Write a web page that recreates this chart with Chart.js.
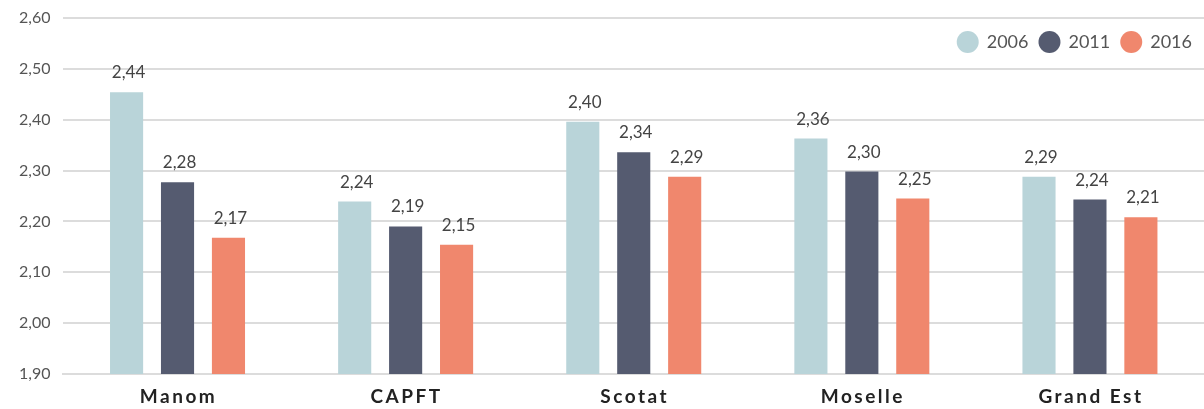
<!DOCTYPE html>
<html>
<head>
<meta charset="utf-8">
<script src="https://cdn.jsdelivr.net/npm/chart.js@4"></script>
<style>
  html, body { margin: 0; padding: 0; background: #fff; }
  #wrap { width: 1204px; height: 409px; }
</style>
</head>
<body>
<div id="wrap"><canvas id="myChart"></canvas></div>
<script>
const categories = ['Manom', 'CAPFT', 'Scotat', 'Moselle', 'Grand Est'];
const years = ['2006', '2011', '2016'];
const values2006 = [2.454, 2.239, 2.396, 2.363, 2.288];
const values2011 = [2.277, 2.19, 2.336, 2.298, 2.243];
const values2016 = [2.168, 2.154, 2.288, 2.245, 2.208];
const labels2006 = ['2,44', '2,24', '2,40', '2,36', '2,29'];
const labels2011 = ['2,28', '2,19', '2,34', '2,30', '2,24'];
const labels2016 = ['2,17', '2,15', '2,29', '2,25', '2,21'];
const yTicks = [1.9, 2.0, 2.1, 2.2, 2.3, 2.4, 2.5, 2.6];
const colors = ['#b9d4d9', '#555b70', '#f0876d'];

const barLabels = [labels2006, labels2011, labels2016];

// value labels above bars
const valueLabels = {
  id: 'valueLabels',
  afterDatasetsDraw(chart) {
    const ctx = chart.ctx;
    ctx.save();
    ctx.font = '17px Lato';
    ctx.fillStyle = '#444';
    ctx.textAlign = 'center';
    ctx.textBaseline = 'bottom';
    chart.data.datasets.forEach((ds, i) => {
      chart.getDatasetMeta(i).data.forEach((bar, j) => {
        ctx.fillText(barLabels[i][j], bar.x + 2, bar.y - 11);
      });
    });
    ctx.restore();
  }
};

// spaced bold category names
const categoryLabels = {
  id: 'categoryLabels',
  afterDraw(chart) {
    const ctx = chart.ctx;
    const x = chart.scales.x;
    ctx.save();
    ctx.font = 'bold 19px Lato';
    ctx.letterSpacing = '2.5px';
    ctx.fillStyle = '#222';
    ctx.textAlign = 'center';
    ctx.textBaseline = 'middle';
    categories.forEach((c, i) => {
      ctx.fillText(c, x.getPixelForTick(i) + 1, 397);
    });
    ctx.restore();
  }
};

// round legend in the top right corner of the plot
const dotLegend = {
  id: 'dotLegend',
  afterDraw(chart) {
    const ctx = chart.ctx;
    const area = chart.chartArea;
    ctx.save();
    ctx.font = '18px Lato';
    ctx.textBaseline = 'middle';
    ctx.textAlign = 'left';
    let right = area.right - 12;
    const y = area.top + 24;
    for (let i = years.length - 1; i >= 0; i--) {
      const w = ctx.measureText(years[i]).width;
      const tx = right - w;
      ctx.fillStyle = '#555';
      ctx.fillText(years[i], tx, y);
      ctx.beginPath();
      ctx.arc(tx - 8 - 11, y, 11, 0, Math.PI * 2);
      ctx.fillStyle = colors[i];
      ctx.fill();
      right = tx - 8 - 22 - 10;
    }
    ctx.restore();
  }
};

const ctx = document.getElementById('myChart');
new Chart(ctx, {
  type: 'bar',
  data: {
    labels: categories,
    datasets: [
      { label: years[0], data: values2006, backgroundColor: colors[0] },
      { label: years[1], data: values2011, backgroundColor: colors[1] },
      { label: years[2], data: values2016, backgroundColor: colors[2] },
    ],
  },
  options: {
    responsive: true,
    maintainAspectRatio: false,
    animation: false,
    layout: { padding: { top: 0, left: 6, right: 0, bottom: 9 } },
    datasets: {
      bar: { categoryPercentage: 0.67, barPercentage: 0.65 },
    },
    plugins: {
      legend: { display: false },
      tooltip: { enabled: false },
    },
    scales: {
      x: {
        grid: { display: false },
        border: { color: '#dcdcdc', width: 2 },
        ticks: { color: 'rgba(0,0,0,0)', font: { family: 'Lato', size: 15, weight: 'bold' }, padding: 0 },
      },
      y: {
        min: 1.9,
        max: 2.6,
        afterBuildTicks(scale) {
          scale.ticks = yTicks.map(v => ({ value: v }));
        },
        afterFit(scale) {
          scale.paddingTop = 18;
        },
        grid: { color: '#dcdcdc', lineWidth: 2, drawTicks: false },
        border: { display: false },
        ticks: {
          color: '#555',
          padding: 13,
          font: { family: 'Lato', size: 16 },
          callback: v => v.toFixed(2).replace('.', ','),
        },
      },
    },
  },
  plugins: [valueLabels, categoryLabels, dotLegend],
});
</script>
</body>
</html>
